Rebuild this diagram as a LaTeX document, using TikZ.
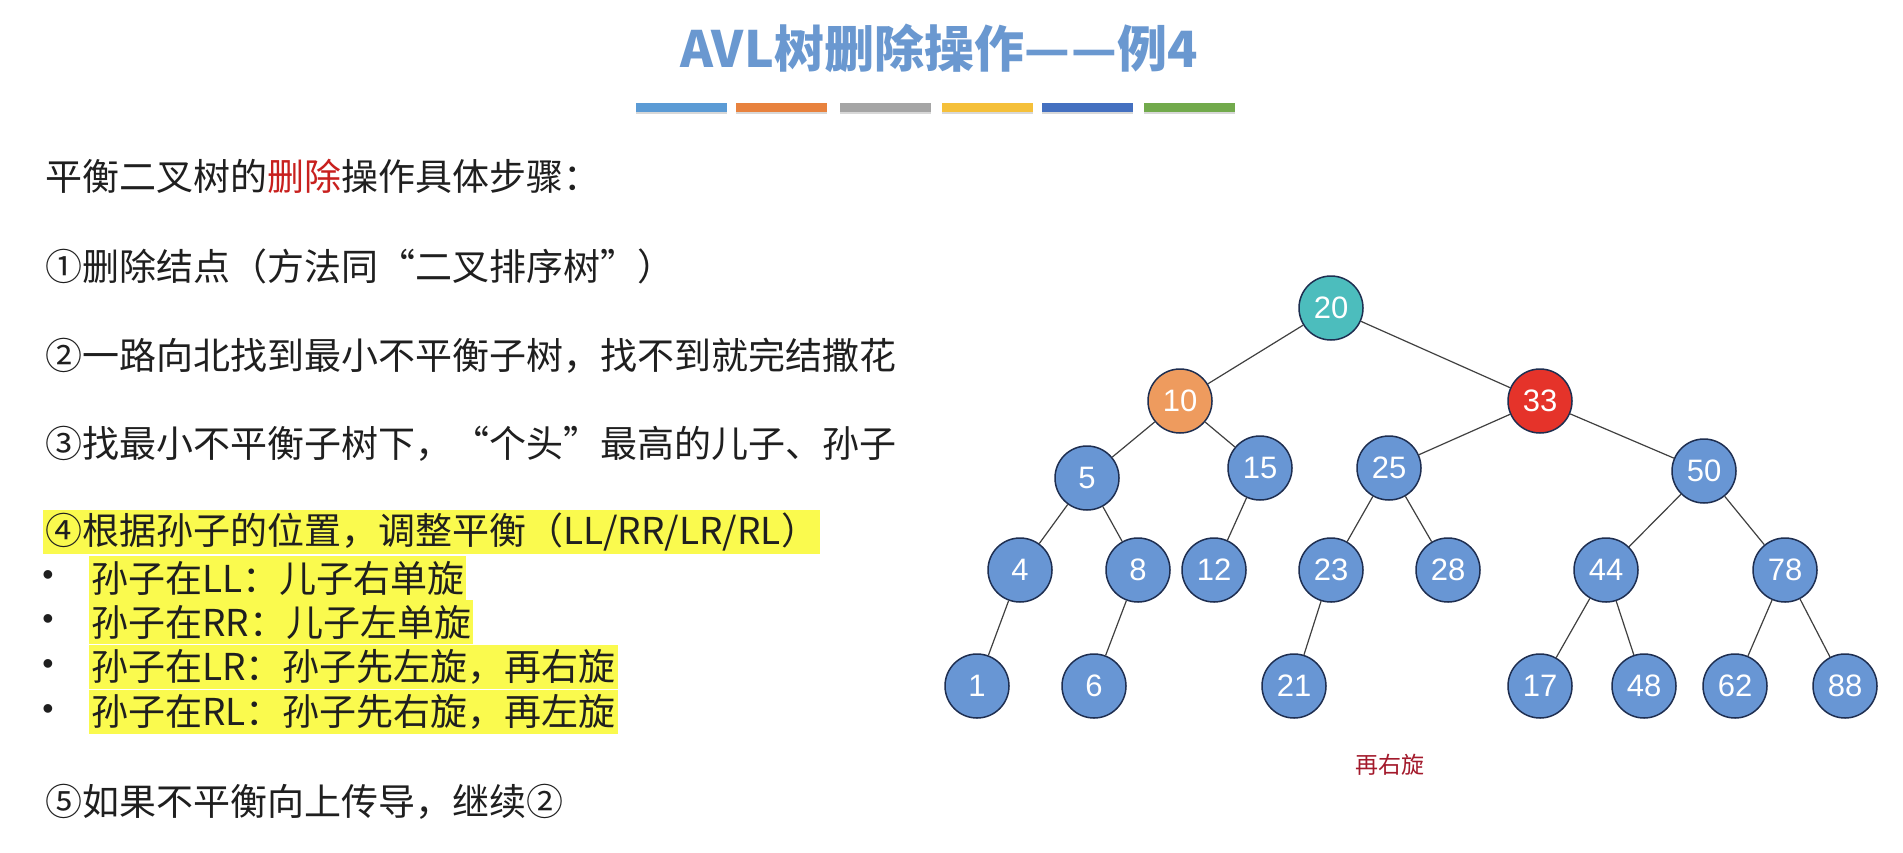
\documentclass[tikz,border=0pt]{standalone}
\usepackage{fontspec}
\setmainfont{Noto Sans CJK SC}
\newfontfamily\numfont{Liberation Sans}
\usetikzlibrary{positioning,shadows}
\definecolor{titleblue}{HTML}{6A98D0}
\definecolor{barA}{HTML}{5B9BD5}
\definecolor{barB}{HTML}{E8823E}
\definecolor{barC}{HTML}{A5A5A5}
\definecolor{barD}{HTML}{F5C03A}
\definecolor{barE}{HTML}{4470C0}
\definecolor{barF}{HTML}{72AA4C}
\definecolor{delred}{HTML}{C8201E}
\definecolor{hlyellow}{HTML}{FAFA4E}
\definecolor{nodeblue}{HTML}{6896D4}
\definecolor{nodeline}{HTML}{1E2E50}
\definecolor{rootteal}{HTML}{4CBDBD}
\definecolor{sonorange}{HTML}{EE9B5E}
\definecolor{badred}{HTML}{E5332A}
\definecolor{notered}{HTML}{A3192B}

\begin{document}
\begin{tikzpicture}[x=1pt,y=-1pt,
    every node/.style={inner sep=0pt},
    line/.style={anchor=west,font=\fontsize{37}{40}\selectfont,text=black!88},
    hl/.style={line,fill=hlyellow,inner xsep=2pt,minimum height=44.5pt},
    dot/.style={font=\numfont\fontsize{32}{34}\selectfont,text=black!88},
    bar/.style={minimum width=91pt,minimum height=9pt,drop shadow={shadow xshift=0pt,shadow yshift=-2pt,opacity=0.3}},
    key/.style={circle,draw=nodeline,line width=1.5pt,fill=nodeblue,minimum size=64pt,text=white,font=\numfont\fontsize{31}{32}\selectfont},
    edge/.style={draw=black!75,line width=1.2pt}
]
\useasboundingbox[fill=white] (0,0) rectangle (1903,852);

\node[font=\bfseries\fontsize{50}{54}\selectfont,text=titleblue] (title) at (939,48) {AVL树删除操作—\kern2pt—例4};
\node[bar,fill=barA] (bar1) at (681,107) {};
\node[bar,fill=barB] (bar2) at (781,107) {};
\node[bar,fill=barC] (bar3) at (885,107) {};
\node[bar,fill=barD] (bar4) at (987,107) {};
\node[bar,fill=barE] (bar5) at (1087,107) {};
\node[bar,fill=barF] (bar6) at (1189,107) {};

\node[line] (head) at (45,176) {平衡二叉树的\textcolor{delred}{删除}操作具体步骤：};
\node[line] (s1) at (45,266) {①删除结点（方法同“二叉排序树”）};
\node[line] (s2) at (45,356) {②一路向北找到最小不平衡子树，找不到就完结撒花};
\node[line] (s3) at (45,444) {③找最小不平衡子树下，“个头”最高的儿子、孙子};
\node[hl] (s4) at (43,532) {④根据孙子的位置，调整平衡（LL/RR/LR/RL）};
\node[dot] (d1) at (48,578) {\textbullet};
\node[dot] (d2) at (48,622) {\textbullet};
\node[dot] (d3) at (48,667) {\textbullet};
\node[dot] (d4) at (48,712) {\textbullet};
\node[hl] (ll) at (89,578) {孙子在LL：儿子右单旋};
\node[hl] (rr) at (89,622) {孙子在RR：儿子左单旋};
\node[hl] (lr) at (89,667) {孙子在LR：孙子先左旋，再右旋};
\node[hl] (rl) at (89,712) {孙子在RL：孙子先右旋，再左旋};
\node[line] (s5) at (45,802) {⑤如果不平衡向上传导，继续②};

\node[key,fill=rootteal] (k20) at (1331,308) {20};
\node[key,fill=sonorange] (k10) at (1180,401) {10};
\node[key,fill=badred] (k33) at (1540,401) {33};
\node[key] (k5) at (1087,478) {5};
\node[key] (k15) at (1260,468) {15};
\node[key] (k25) at (1389,468) {25};
\node[key] (k50) at (1704,471) {50};
\node[key] (k4) at (1020,570) {4};
\node[key] (k8) at (1138,570) {8};
\node[key] (k12) at (1214,570) {12};
\node[key] (k23) at (1331,570) {23};
\node[key] (k28) at (1448,570) {28};
\node[key] (k44) at (1606,570) {44};
\node[key] (k78) at (1785,570) {78};
\node[key] (k1) at (977,686) {1};
\node[key] (k6) at (1094,686) {6};
\node[key] (k21) at (1294,686) {21};
\node[key] (k17) at (1540,686) {17};
\node[key] (k48) at (1644,686) {48};
\node[key] (k62) at (1735,686) {62};
\node[key] (k88) at (1845,686) {88};

\draw[edge] (k20) -- (k10);
\draw[edge] (k20) -- (k33);
\draw[edge] (k10) -- (k5);
\draw[edge] (k10) -- (k15);
\draw[edge] (k33) -- (k25);
\draw[edge] (k33) -- (k50);
\draw[edge] (k5) -- (k4);
\draw[edge] (k5) -- (k8);
\draw[edge] (k15) -- (k12);
\draw[edge] (k25) -- (k23);
\draw[edge] (k25) -- (k28);
\draw[edge] (k50) -- (k44);
\draw[edge] (k50) -- (k78);
\draw[edge] (k4) -- (k1);
\draw[edge] (k8) -- (k6);
\draw[edge] (k23) -- (k21);
\draw[edge] (k44) -- (k17);
\draw[edge] (k44) -- (k48);
\draw[edge] (k78) -- (k62);
\draw[edge] (k78) -- (k88);

\node[font=\fontsize{23}{25}\selectfont,text=notered] (note) at (1390,765) {再右旋};
\end{tikzpicture}
\end{document}
